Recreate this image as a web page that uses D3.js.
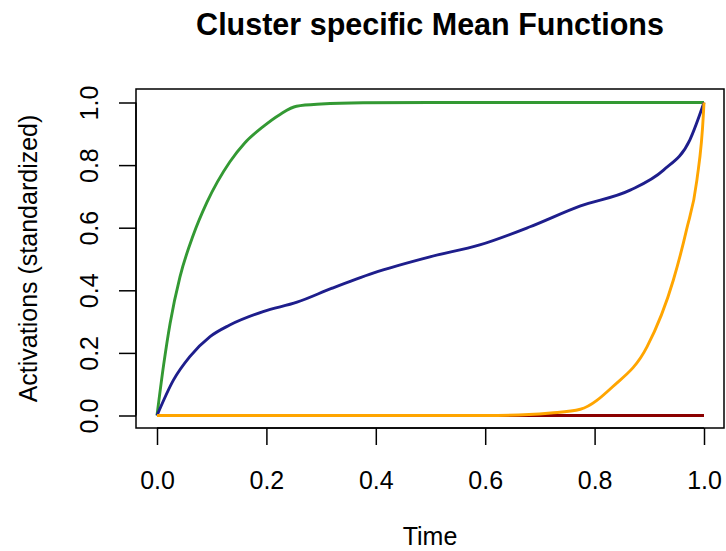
<!DOCTYPE html>
<html>
<head>
<meta charset="utf-8">
<script src="https://cdn.jsdelivr.net/npm/d3@7"></script>
<style>
  body { margin: 0; background: #fff; }
  text { font-family: "Liberation Sans", Arial, sans-serif; fill: #000; }
</style>
</head>
<body>
<div id="chart"></div>
<script>
'use strict';

// Values
var greenTime  = [0, 0.012, 0.024, 0.042, 0.066, 0.091, 0.133, 0.16, 0.194, 0.225, 0.255, 0.3, 0.377, 0.5, 1.0];
var greenValue = [0, 0.16, 0.295, 0.443, 0.575, 0.68, 0.81, 0.87, 0.923, 0.962, 0.988, 0.995, 0.999, 1.0, 1.0];

var blueTime  = [0, 0.03, 0.06, 0.097, 0.133, 0.194, 0.256, 0.319, 0.395, 0.499, 0.59, 0.682, 0.773, 0.865, 0.926, 0.974, 1.0];
var blueValue = [0, 0.113, 0.188, 0.252, 0.289, 0.332, 0.362, 0.406, 0.455, 0.507, 0.545, 0.603, 0.669, 0.72, 0.784, 0.88, 1.0];

var orangeTime  = [0, 0.6, 0.68, 0.72, 0.774, 0.833, 0.896, 0.944, 0.968, 0.987, 0.999, 1.0];
var orangeValue = [0, 0, 0.003, 0.008, 0.02, 0.092, 0.22, 0.433, 0.593, 0.752, 0.966, 1.0];

var redTime  = [0, 1.0];
var redValue = [0, 0];

var xTicks = [0, 0.2, 0.4, 0.6, 0.8, 1.0];
var yTicks = [0, 0.2, 0.4, 0.6, 0.8, 1.0];

var series = [
  {time: redTime, value: redValue, color: '#8B0000'},
  {time: greenTime, value: greenValue, color: '#339933'},
  {time: blueTime, value: blueValue, color: '#1e1e8c'},
  {time: orangeTime, value: orangeValue, color: '#FFA500'}
];

var W = 726, H = 551;
var box = {left: 136, right: 724, top: 89, bottom: 428};

var x = d3.scaleLinear().domain([0, 1]).range([157, 704]);
var y = d3.scaleLinear().domain([0, 1]).range([415.5, 102.5]);

var svg = d3.select('#chart')
  .append('svg')
  .attr('width', W)
  .attr('height', H);

// Title
svg.append('text')
  .attr('x', (box.left + box.right) / 2)
  .attr('y', 35)
  .attr('text-anchor', 'middle')
  .style('font-size', '30.5px')
  .style('font-weight', 'bold')
  .text('Cluster specific Mean Functions');

// Lines
var line = d3.line()
  .curve(d3.curveMonotoneX)
  .x(function(d) { return x(d[0]); })
  .y(function(d) { return y(d[1]); });

series.forEach(function(s) {
  svg.append('path')
    .datum(d3.zip(s.time, s.value))
    .attr('fill', 'none')
    .attr('stroke', s.color)
    .attr('stroke-width', 2.9)
    .attr('stroke-linejoin', 'round')
    .attr('d', line);
});

// Plot box
svg.append('rect')
  .attr('x', box.left)
  .attr('y', box.top)
  .attr('width', box.right - box.left)
  .attr('height', box.bottom - box.top)
  .attr('fill', 'none')
  .attr('stroke', '#000')
  .attr('stroke-width', 1.5);

// X axis
var xAxis = d3.axisBottom(x)
  .tickValues(xTicks)
  .tickSize(17)
  .tickFormat(d3.format('.1f'));

var gx = svg.append('g')
  .attr('transform', 'translate(0,' + box.bottom + ')')
  .call(xAxis);
gx.select('.domain')
  .attr('d', 'M' + x(0) + ',0H' + x(1))
  .attr('stroke-width', 1.5);
gx.selectAll('.tick line').attr('stroke-width', 1.5);
gx.selectAll('.tick text')
  .attr('y', 43)
  .attr('dy', '0.71em')
  .style('font-size', '25px')
  .style('font-family', '"Liberation Sans", Arial, sans-serif');

// Y axis
var yAxis = d3.axisLeft(y)
  .tickValues(yTicks)
  .tickSize(17)
  .tickFormat(d3.format('.1f'));

var gy = svg.append('g')
  .attr('transform', 'translate(' + box.left + ',0)')
  .call(yAxis);
gy.select('.domain')
  .attr('d', 'M0,' + y(0) + 'V' + y(1))
  .attr('stroke-width', 1.5);
gy.selectAll('.tick line').attr('stroke-width', 1.5);
gy.selectAll('.tick text')
  .attr('x', null)
  .attr('dy', null)
  .attr('text-anchor', 'middle')
  .attr('transform', 'translate(-38,0) rotate(-90)')
  .style('font-size', '25px')
  .style('font-family', '"Liberation Sans", Arial, sans-serif');

// Axis titles
svg.append('text')
  .attr('x', (box.left + box.right) / 2)
  .attr('y', 545)
  .attr('text-anchor', 'middle')
  .style('font-size', '25px')
  .text('Time');

svg.append('text')
  .attr('transform', 'translate(37,' + ((box.top + box.bottom) / 2) + ') rotate(-90)')
  .attr('text-anchor', 'middle')
  .style('font-size', '25px')
  .text('Activations (standardized)');
</script>
</body>
</html>
